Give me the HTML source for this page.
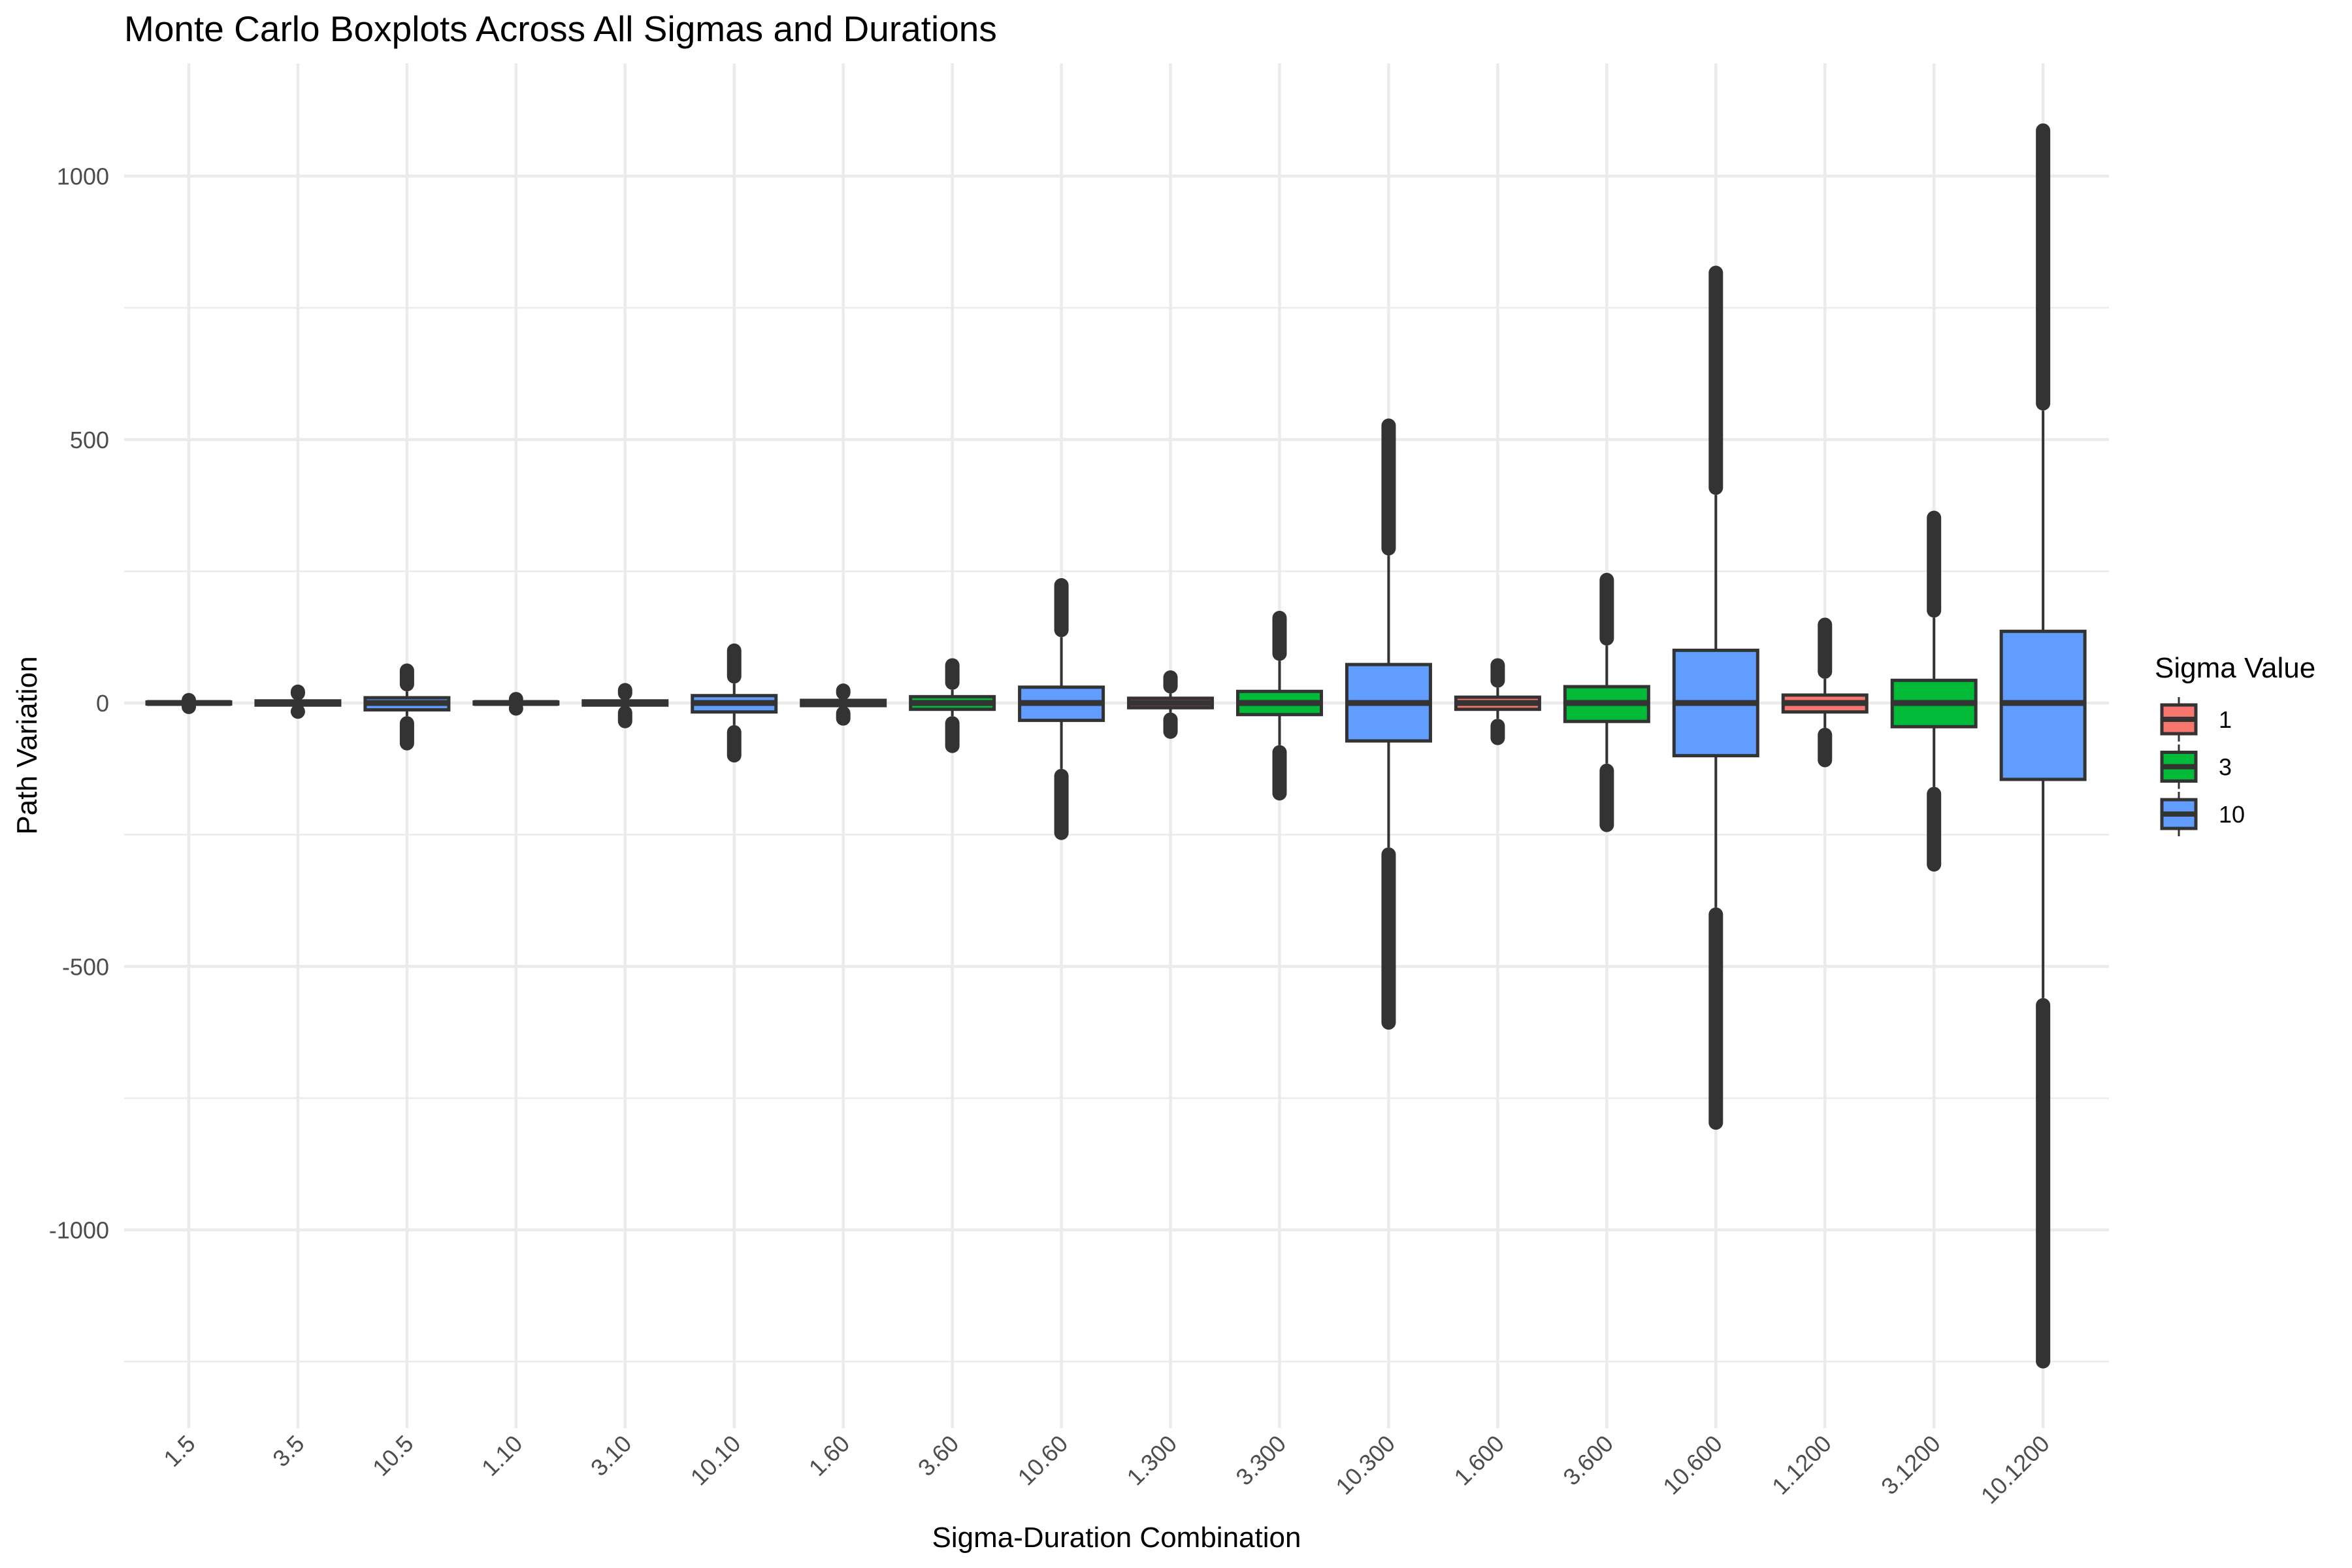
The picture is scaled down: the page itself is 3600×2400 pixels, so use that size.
<!DOCTYPE html>
<html><head><meta charset="utf-8"><style>
html,body{margin:0;padding:0;background:#fff;}
svg{display:block;font-family:"Liberation Sans",Arial,sans-serif;}
</style></head><body>
<svg id="chart" width="3600" height="2400" viewBox="0 0 3600 2400" xmlns="http://www.w3.org/2000/svg">
<rect width="3600" height="2400" fill="#fff"/>
<text x="190" y="63" font-size="55" fill="#000">Monte Carlo Boxplots Across All Sigmas and Durations</text>
<g id="grid"></g>
<g id="marks"></g>
<g id="axes"></g>
<text transform="translate(56,1141) rotate(-90)" text-anchor="middle" font-size="44" fill="#000">Path Variation</text>
<text x="1709" y="2368" text-anchor="middle" font-size="44" fill="#000">Sigma-Duration Combination</text>
<g id="legend"></g>
</svg>
<script>
const categories = ["1.5","3.5","10.5","1.10","3.10","10.10","1.60","3.60","10.60","1.300","3.300","10.300","1.600","3.600","10.600","1.1200","3.1200","10.1200"];
const sigmas = [1,3,10,1,3,10,1,3,10,1,3,10,1,3,10,1,3,10];
const q1 = [-2,-4,-13,-2,-4,-17,-5,-12,-33,-9,-22,-72,-12,-35,-100,-17,-45,-145];
const medians = [0,0,0,0,0,0,0,0,0,0,0,0,0,0,0,0,0,0];
const q3 = [2,4,10,2,4,14,5,12,30,9,22,73,11,31,100,15,43,136];
const whiskerLow = [-3,-5,-25,-3,-5,-42,-6,-25,-125,-18,-80,-274,-30,-115,-388,-47,-159,-560];
const whiskerHigh = [3,5,22,3,5,37,6,25,125,18,80,280,29,109,395,46,162,555];
const outlierMin = [-21,-30,-90,-24,-48,-113,-43,-95,-260,-68,-185,-620,-80,-245,-810,-122,-320,-1263];
const outlierMax = [19,35,75,21,38,113,37,85,237,62,175,540,85,247,830,162,365,1100];
const yTicks = [-1000,-500,0,500,1000];
const yMinor = [-1250,-750,-250,250,750];
const legendLevels = [1,3,10];

const colors = {1:"#F8766D",3:"#00BA38",10:"#619CFF"};
const NS = "http://www.w3.org/2000/svg";
const PL=190, PR=3228, PT=97, PB=2186;
function y(v){ return 1076 - v*0.8065; }
function x(i){ return 289 + i*166.95; }
function mk(tag, attrs, parent){ const e=document.createElementNS(NS,tag); for(const k in attrs) e.setAttribute(k,attrs[k]); parent.appendChild(e); return e; }

const grid=document.getElementById('grid');
yMinor.forEach(v=>{ const l=mk('line',{x1:PL,x2:PR,y1:y(v),y2:y(v),stroke:'#EBEBEB','stroke-width':2.5},grid);

 });
yTicks.forEach(v=>{ const l=mk('line',{x1:PL,x2:PR,y1:y(v),y2:y(v),stroke:'#EBEBEB','stroke-width':4.5},grid);

 });
categories.forEach((c,i)=>{ const l=mk('line',{x1:x(i),x2:x(i),y1:PT,y2:PB,stroke:'#EBEBEB','stroke-width':4.5},grid);

 });

const axes=document.getElementById('axes');
yTicks.forEach(v=>{ const t=mk('text',{x:167,y:y(v)+13,'text-anchor':'end','font-size':36,fill:'#4D4D4D'},axes); t.textContent=String(v);

 });
categories.forEach((c,i)=>{ const t=mk('text',{transform:`translate(${x(i)+12},${2212}) rotate(-45)`,'text-anchor':'end','font-size':36,fill:'#4D4D4D'},axes); t.textContent=c;

 });

const marks=document.getElementById('marks');
const BW=128, OW=22, DK="#333333";
categories.forEach((c,i)=>{
  const g=mk('g',{},marks);
  
  
  const cx=x(i);
  mk('line',{x1:cx,x2:cx,y1:y(whiskerHigh[i]),y2:y(q3[i]),stroke:DK,'stroke-width':4},g);
  mk('line',{x1:cx,x2:cx,y1:y(q1[i]),y2:y(whiskerLow[i]),stroke:DK,'stroke-width':4},g);
  if(outlierMax[i]>whiskerHigh[i]){
    const o=mk('line',{x1:cx,x2:cx,stroke:DK,'stroke-width':OW,'stroke-linecap':'round'},g);
    o.setAttribute('y1', y(outlierMax[i])+OW/2);
    o.setAttribute('y2', Math.max(y(outlierMax[i])+OW/2, y(whiskerHigh[i])-OW/2));
    
    
  }
  if(outlierMin[i]<whiskerLow[i]){
    const o=mk('line',{x1:cx,x2:cx,stroke:DK,'stroke-width':OW,'stroke-linecap':'round'},g);
    o.setAttribute('y1', Math.min(y(whiskerLow[i])+OW/2, y(outlierMin[i])-OW/2));
    o.setAttribute('y2', y(outlierMin[i])-OW/2);
    
    
  }
  const top=y(q3[i]), bot=y(q1[i]);
  const r=mk('rect',{x:cx-BW/2,y:top,width:BW,height:Math.max(bot-top,1),fill:colors[sigmas[i]],stroke:DK,'stroke-width':5},g);
  
  
  const m=mk('line',{x1:cx-BW/2,x2:cx+BW/2,y1:y(medians[i]),y2:y(medians[i]),stroke:DK,'stroke-width':9},g);
  
  
});

const lg=document.getElementById('legend');
const lt=mk('text',{x:3298,y:1037,'font-size':44,fill:'#000'},lg); lt.textContent='Sigma Value';


legendLevels.forEach((s,k)=>{
  const cy=1101+k*72.5, cx=3335;
  const g=mk('g',{},lg);
  
  
  mk('line',{x1:cx,x2:cx,y1:cy-34,y2:cy+34,stroke:DK,'stroke-width':3},g);
  mk('rect',{x:cx-26,y:cy-22,width:52,height:44,fill:colors[s],stroke:DK,'stroke-width':5},g);
  mk('line',{x1:cx-26,x2:cx+26,y1:cy,y2:cy,stroke:DK,'stroke-width':8},g);
  const t=mk('text',{x:3396,y:cy+13,'font-size':36,fill:'#000'},g); t.textContent=String(s);
});
</script>
</body></html>
